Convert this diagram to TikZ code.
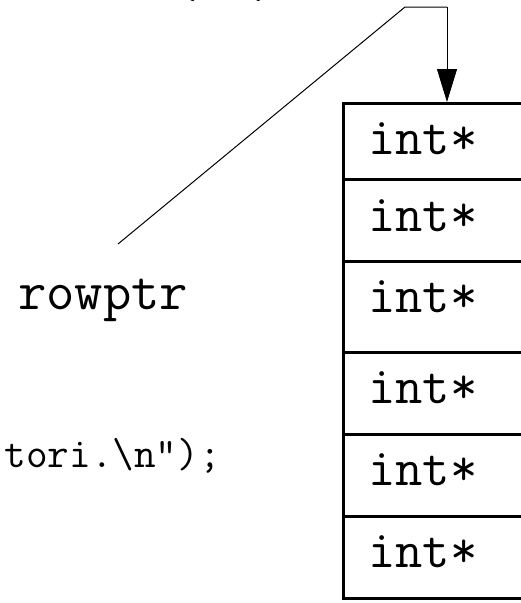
\documentclass[tikz,border=0pt]{standalone}
\usetikzlibrary{arrows.meta}
\begin{document}
\begin{tikzpicture}[x=1pt,y=-1pt,
  celltext/.style={anchor=base west,inner sep=0pt,font=\ttfamily\fontsize{53}{53}\selectfont},
  plaintext/.style={inner sep=0pt,font=\ttfamily\fontsize{55}{55}\selectfont},
  smalltext/.style={inner sep=0pt,font=\ttfamily\fontsize{42}{42}\selectfont},
  cellline/.style={line width=3pt},
  link/.style={line width=1pt},
  linkarrow/.style={line width=1pt,-{Triangle[length=33pt,width=20pt]}}]
\useasboundingbox (0,0) rectangle (520,603);
% array of pointers
\draw[cellline] (540,103.5) -- (343,103.5) -- (343,598) -- (540,598);
\foreach \y in {179,261,352,434,516} \draw[cellline] (343,\y) -- (540,\y);
\node[celltext] (c1) at (368,154.5) {int*};
\node[celltext] (c2) at (368,231.5) {int*};
\node[celltext] (c3) at (368,312.5) {int*};
\node[celltext] (c4) at (368,403.5) {int*};
\node[celltext] (c5) at (368,485.5) {int*};
\node[celltext] (c6) at (368,567.5) {int*};
\coordinate (top) at (447,102);
% labels
\node[plaintext,anchor=base west] (rp) at (18,309) {rowptr};
\node[smalltext,anchor=base east] (pf) at (221,467) {tori.\textbackslash n");};
\node[plaintext,anchor=base west,font=\ttfamily\bfseries\fontsize{51}{51}\selectfont] (hd) at (172,-3) {(\ \ )};
% connector
\coordinate (a) at (118,244);
\coordinate (b) at (405,7);
\coordinate (c) at (447,7);
\draw[link] (a) -- (b) -- (c);
\draw[linkarrow] (c) -- (top);
\end{tikzpicture}
\end{document}
